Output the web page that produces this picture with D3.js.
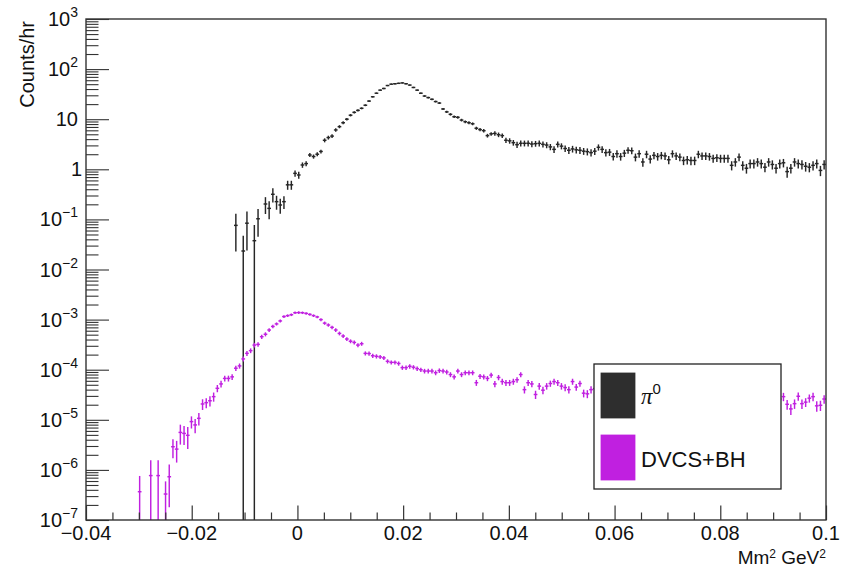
<!DOCTYPE html>
<html><head><meta charset="utf-8">
<script src="https://cdn.jsdelivr.net/npm/d3@7"></script>
<style>
html,body{margin:0;padding:0;background:#fff;}
svg{display:block;font-family:"Liberation Sans",Arial,Helvetica,sans-serif;}
</style></head><body>
<svg id="chart" width="852" height="567"></svg>
<script>
// ---------------- data ----------------
const xMin = -0.04, xMax = 0.1, nBins = 200;
const yMinVal = 1e-7, yMaxVal = 1e3;

// pi0 histogram, bins 40..199
const pi0FirstBin = 40;
const pi0Values = [
  0.076, 0, 0.0234, 0.084, 0, 0.0376, 0.103, 0, 0.203, 0.166,
  0.317, 0.226, 0.194, 0.226, 0.49, 0.49, 0.83, 0.77, 1.22, 1.3,
  1.93, 1.8, 2.0, 2.27, 3.8, 4.3, 4.6, 6.1, 7.1, 8.5,
  10, 12, 13.7, 15, 16.5, 19, 23, 28, 33, 38,
  41, 47, 50, 51, 52, 53, 51, 48, 43, 38,
  33, 29, 27, 25, 22.5, 21, 16, 14, 12.5, 11.2,
  10.9, 9.6, 8.9, 8.5, 8.1, 6.6, 6.2, 5.9, 4.7, 5.1,
  5.2, 4.9, 4.7, 3.8, 3.7, 3.4, 3.1, 3.3, 3.3, 3.3,
  3.2, 3.25, 3.3, 3.15, 3.05, 2.8, 2.5, 3.15, 2.9, 2.6,
  2.4, 2.55, 2.45, 2.4, 2.3, 2.25, 2.15, 2.3, 2.75, 2.5,
  2.15, 2.2, 1.8, 2.05, 1.8, 2.1, 2.4, 2.35, 1.75, 2.05,
  1.4, 2.0, 1.6, 1.9, 1.8, 1.9, 1.85, 1.55, 2.05, 1.85,
  1.75, 1.5, 1.55, 1.5, 1.5, 2.0, 1.85, 1.85, 1.8, 1.65,
  1.7, 1.65, 1.65, 1.65, 1.2, 1.4, 1.75, 1.2, 1.05, 1.3,
  1.3, 1.4, 1.3, 1.1, 1.4, 1.25, 1.05, 1.3, 1.35, 0.9,
  1.05, 1.4, 1.3, 1.25, 1.15, 1.1, 1.2, 1.3, 0.95, 1.25
];
const pi0Errors = [
  0.053, 0, 0.024, 0.06, 0, 0.04, 0.058, 0, 0.075, 0.065,
  0.1, 0.07, 0.065, 0.065, 0.1, 0.1, 0.12, 0.12, 0.15, 0.15,
  0.18, 0.17, 0.18, 0.2, 0.35, 0.38, 0.4, 0.48, 0.5, 0.55,
  0.6, 0.65, 0.7, 0.72, 0.75, 0.8, 0.9, 1.0, 1.1, 1.2,
  1.3, 1.4, 1.5, 1.5, 1.55, 1.55, 1.5, 1.45, 1.4, 1.3,
  1.2, 1.1, 1.05, 1.0, 0.95, 0.9, 0.8, 0.75, 0.7, 0.65,
  0.65, 0.6, 0.57, 0.55, 0.53, 0.48, 0.46, 0.45, 0.4, 0.42,
  0.52, 0.52, 0.5, 0.46, 0.46, 0.44, 0.43, 0.44, 0.44, 0.44,
  0.43, 0.43, 0.44, 0.43, 0.42, 0.4, 0.38, 0.43, 0.4, 0.39,
  0.38, 0.39, 0.38, 0.38, 0.36, 0.36, 0.35, 0.36, 0.39, 0.38,
  0.35, 0.35, 0.31, 0.34, 0.31, 0.34, 0.36, 0.36, 0.31, 0.34,
  0.27, 0.34, 0.3, 0.32, 0.31, 0.32, 0.32, 0.29, 0.34, 0.32,
  0.31, 0.29, 0.3, 0.29, 0.29, 0.34, 0.32, 0.32, 0.31, 0.3,
  0.3, 0.3, 0.3, 0.3, 0.25, 0.27, 0.31, 0.25, 0.23, 0.26,
  0.26, 0.27, 0.26, 0.23, 0.27, 0.26, 0.23, 0.26, 0.26, 0.22,
  0.23, 0.27, 0.26, 0.26, 0.25, 0.23, 0.25, 0.26, 0.22, 0.26
];

// DVCS+BH histogram, bins 14..199
const dvcsFirstBin = 14;
const dvcsValues = [
  3.67e-7, 0, 0, 7.7e-7, 0, 7.7e-7,
  0, 3.3e-7, 7.3e-7, 2.9e-6, 2.6e-6, 5.6e-6, 5.35e-6, 4.9e-6, 9.2e-6, 7.9e-6,
  1.07e-5, 2.07e-5, 2.2e-5, 2.4e-5, 2.9e-5, 4.25e-5, 5.2e-5, 6.7e-5, 6.7e-5, 7.2e-5,
  1.07e-4, 1.19e-4, 1.64e-4, 2.12e-4, 2.4e-4, 3.1e-4, 3.2e-4, 4.56e-4, 5.1e-4, 6.2e-4,
  7.3e-4, 8.2e-4, 9.4e-4, 1.15e-3, 1.2e-3, 1.25e-3, 1.37e-3, 1.38e-3, 1.37e-3, 1.33e-3,
  1.27e-3, 1.2e-3, 1.13e-3, 1.0e-3, 8.5e-4, 7.8e-4, 7.0e-4, 6.2e-4, 5.3e-4, 4.7e-4,
  4.1e-4, 3.7e-4, 3.5e-4, 3.1e-4, 3.3e-4, 2.12e-4, 2.1e-4, 1.9e-4, 1.85e-4, 1.8e-4,
  1.72e-4, 1.47e-4, 1.4e-4, 1.4e-4, 1.33e-4, 1.1e-4, 1.1e-4, 1.17e-4, 1.12e-4, 1.05e-4,
  1.0e-4, 9.4e-5, 9.4e-5, 9.4e-5, 8.7e-5, 9.6e-5, 9.4e-5, 9.0e-5, 8.0e-5, 7.2e-5,
  9.4e-5, 8.0e-5, 8.7e-5, 8.7e-5, 8.7e-5, 5.5e-5, 7.4e-5, 7.2e-5, 6.7e-5, 7.8e-5,
  5.2e-5, 7.0e-5, 5.8e-5, 5.5e-5, 5.5e-5, 5.8e-5, 6.3e-5, 8.0e-5, 4.0e-5, 5.5e-5,
  5.2e-5, 3.2e-5, 4.7e-5, 3.9e-5, 4.7e-5, 5.3e-5, 5.8e-5, 5.5e-5, 4.7e-5, 4.4e-5,
  4.0e-5, 5.8e-5, 4.5e-5, 5.3e-5, 3.4e-5, 3.3e-5, 4.0e-5, 4.2e-5, 3.8e-5, 4.5e-5,
  4.1e-5, 3.6e-5, 4.4e-5, 3.9e-5, 4.0e-5, 3.5e-5, 4.2e-5, 3.8e-5, 3.4e-5, 4.0e-5,
  3.7e-5, 3.9e-5, 3.3e-5, 3.8e-5, 3.6e-5, 3.4e-5, 3.9e-5, 3.5e-5, 3.2e-5, 3.7e-5,
  3.5e-5, 3.3e-5, 3.6e-5, 3.1e-5, 3.4e-5, 3.5e-5, 3.0e-5, 3.3e-5, 3.2e-5, 2.9e-5,
  3.3e-5, 3.1e-5, 2.8e-5, 3.2e-5, 3.0e-5, 2.9e-5, 3.1e-5, 2.7e-5, 3.0e-5, 2.8e-5,
  2.9e-5, 2.6e-5, 3.0e-5, 2.7e-5, 2.8e-5, 2.5e-5, 2.9e-5, 2.6e-5, 2.9e-5, 2.04e-5,
  1.65e-5, 2.1e-5, 2.95e-5, 2.1e-5, 2.25e-5, 2.7e-5, 2.9e-5, 1.9e-5, 1.95e-5, 2.6e-5
];
const dvcsErrors = [
  3.9e-7, 0, 0, 7.8e-7, 0, 7.8e-7,
  0, 2.6e-7, 5.5e-7, 1.2e-6, 1.2e-6, 2.4e-6, 2.2e-6, 2.3e-6, 2.5e-6, 2.5e-6,
  3e-6, 5e-6, 5e-6, 5.5e-6, 6e-6, 7e-6, 8e-6, 9e-6, 9e-6, 9.5e-6,
  1.3e-5, 1.4e-5, 1.9e-5, 2.4e-5, 2.6e-5, 3.3e-5, 3.3e-5, 4.5e-5, 4.8e-5, 5.5e-5,
  5.5e-5, 5.8e-5, 6.2e-5, 7e-5, 7.2e-5, 7.5e-5, 8e-5, 8e-5, 8e-5, 7.8e-5,
  7.5e-5, 7.2e-5, 7e-5, 6.8e-5, 6.2e-5, 6e-5, 5.6e-5, 5.2e-5, 4.6e-5, 4.2e-5,
  3.6e-5, 3.3e-5, 3.2e-5, 2.9e-5, 3e-5, 2e-5, 2e-5, 1.8e-5, 1.8e-5, 1.7e-5,
  1.6e-5, 1.4e-5, 1.3e-5, 1.3e-5, 1.3e-5, 1.1e-5, 1.1e-5, 1.2e-5, 1.1e-5, 1.1e-5,
  1e-5, 1e-5, 1e-5, 1e-5, 9.5e-6, 1e-5, 1e-5, 9.5e-6, 9e-6, 8.5e-6,
  1e-5, 9e-6, 9.5e-6, 9.5e-6, 9.5e-6, 7.5e-6, 8.5e-6, 8.5e-6, 8e-6, 9e-6,
  7.5e-6, 8.5e-6, 8e-6, 7.5e-6, 7.5e-6, 8e-6, 8e-6, 9e-6, 6.5e-6, 7.5e-6,
  7.5e-6, 6e-6, 7e-6, 6.5e-6, 7e-6, 7.5e-6, 8e-6, 7.5e-6, 7e-6, 7e-6,
  6.5e-6, 8e-6, 7e-6, 7.5e-6, 6e-6, 6e-6, 6.5e-6, 6.5e-6, 6.5e-6, 7e-6,
  6.5e-6, 6e-6, 7e-6, 6.5e-6, 6.5e-6, 6e-6, 6.5e-6, 6.5e-6, 6e-6, 6.5e-6,
  6e-6, 6.5e-6, 6e-6, 6.5e-6, 6e-6, 6e-6, 6.5e-6, 6e-6, 6e-6, 6e-6,
  6e-6, 6e-6, 6e-6, 5.5e-6, 6e-6, 6e-6, 5.5e-6, 6e-6, 5.5e-6, 5.5e-6,
  6e-6, 5.5e-6, 5.5e-6, 5.5e-6, 5.5e-6, 5.5e-6, 5.5e-6, 5e-6, 5.5e-6, 5e-6,
  5.5e-6, 5e-6, 5.5e-6, 5e-6, 5e-6, 5e-6, 5.5e-6, 5e-6, 5.5e-6, 4.5e-6,
  4e-6, 4.5e-6, 5.5e-6, 4.5e-6, 4.5e-6, 5e-6, 5.5e-6, 4.5e-6, 4.5e-6, 5e-6
];

const xMajorTicks = [-0.04, -0.02, 0, 0.02, 0.04, 0.06, 0.08, 0.1];
const xTickLabels = ["\u22120.04", "\u22120.02", "0", "0.02", "0.04", "0.06", "0.08", "0.1"];
const xMinorStep = 0.005;
const yDecades = [-7, -6, -5, -4, -3, -2, -1, 0, 1, 2, 3];
const yTitle = "Counts/hr";
const xTitleParts = [["Mm", false], ["2", true], [" GeV", false], ["2", true]];
const seriesNames = ["\u03c0", "DVCS+BH"];
const seriesColors = ["#2e2e2e", "#c020e0"];

// ---------------- layout ----------------
const W = 852, H = 567;
const L = 86, R = 826, T = 19, B = 520;
const svg = d3.select("#chart");
svg.append("rect").attr("width", W).attr("height", H).attr("fill", "#fff");

const x = d3.scaleLinear().domain([xMin, xMax]).range([L, R]);
const y = d3.scaleLog().domain([yMinVal, yMaxVal]).range([B, T]);
const binW = (xMax - xMin) / nBins;

svg.append("clipPath").attr("id", "plotclip")
  .append("rect").attr("x", L).attr("y", T).attr("width", R - L).attr("height", B - T);

function histPoints(values, errors, first) {
  return values.map((v, k) => {
    const i = first + k;
    return { lo: xMin + i * binW, hi: xMin + (i + 1) * binW, c: xMin + (i + 0.5) * binW, v, e: errors[k] };
  }).filter(d => d.v > 0);
}

function drawHist(values, errors, first, color) {
  const pts = histPoints(values, errors, first);
  const g = svg.append("g").attr("clip-path", "url(#plotclip)")
    .attr("stroke", color).attr("stroke-width", 1.45).attr("fill", "none");
  g.selectAll("line.h").data(pts).join("line").attr("class", "h")
    .attr("x1", d => x(d.lo)).attr("x2", d => x(d.hi))
    .attr("y1", d => y(d.v)).attr("y2", d => y(d.v));
  g.selectAll("line.v").data(pts).join("line").attr("class", "v")
    .attr("x1", d => x(d.c)).attr("x2", d => x(d.c))
    .attr("y1", d => y(d.v + d.e))
    .attr("y2", d => (d.v - d.e) > yMinVal ? y(d.v - d.e) : B);
}

drawHist(pi0Values, pi0Errors, pi0FirstBin, "#262626");
drawHist(dvcsValues, dvcsErrors, dvcsFirstBin, seriesColors[1]);

// ---------------- axes ----------------
const axisColor = "#333";
const xMinor = d3.range(Math.round((xMax - xMin) / xMinorStep) + 1).map(k => xMin + k * xMinorStep)
  .filter(v => !xMajorTicks.some(m => Math.abs(m - v) < 1e-9));
const xAxisMinor = d3.axisBottom(x).tickValues(xMinor).tickSize(-7.5).tickFormat("");
const xAxisMajor = d3.axisBottom(x).tickValues(xMajorTicks).tickSize(-14.5).tickFormat("");
[xAxisMinor, xAxisMajor].forEach(ax => {
  const g = svg.append("g").attr("transform", `translate(0,${B})`).call(ax);
  g.select(".domain").remove();
  g.selectAll("line").attr("stroke", axisColor).attr("stroke-width", 1.2);
});
const yMajor = yDecades.map(p => Math.pow(10, p));
const yMinor = [];
yDecades.slice(0, -1).forEach(p => { for (let k = 2; k <= 9; k++) yMinor.push(k * Math.pow(10, p)); });
const yAxisMinor = d3.axisLeft(y).tickValues(yMinor).tickSize(-12.5).tickFormat("");
const yAxisMajor = d3.axisLeft(y).tickValues(yMajor).tickSize(-23).tickFormat("");
[yAxisMinor, yAxisMajor].forEach(ax => {
  const g = svg.append("g").attr("transform", `translate(${L},0)`).call(ax);
  g.select(".domain").remove();
  g.selectAll("line").attr("stroke", axisColor).attr("stroke-width", 1.1);
});

// frame
svg.append("rect").attr("x", L).attr("y", T).attr("width", R - L).attr("height", B - T)
  .attr("fill", "none").attr("stroke", axisColor).attr("stroke-width", 1.4);

// x labels
svg.append("g").selectAll("text").data(xMajorTicks).join("text")
  .attr("x", d => x(d)).attr("y", 540).attr("text-anchor", "middle")
  .attr("font-size", 20).attr("fill", "#111")
  .text((d, i) => xTickLabels[i]);

// y labels
const yl = svg.append("g").selectAll("text").data(yDecades).join("text")
  .attr("x", p => (p === 0 ? 82 : 78)).attr("y", p => y(Math.pow(10, p)) + 7)
  .attr("text-anchor", "end").attr("font-size", 20).attr("fill", "#111");
yl.each(function (p) {
  const t = d3.select(this);
  if (p === 0) { t.text("1"); return; }
  if (p === 1) { t.text("10"); return; }
  t.append("tspan").text("10");
  t.append("tspan").attr("dy", -9).attr("font-size", 14)
    .text(p < 0 ? "\u2212" + (-p) : String(p));
});

// axis titles
svg.append("text").attr("transform", "translate(34,21) rotate(-90)")
  .attr("text-anchor", "end").attr("font-size", 20).attr("fill", "#111").text(yTitle);
const xt = svg.append("text").attr("x", R).attr("y", 564).attr("text-anchor", "end")
  .attr("font-size", 19).attr("fill", "#111");
xTitleParts.forEach(([s, sup], i) => {
  const ts = xt.append("tspan").text(s);
  if (sup) ts.attr("font-size", 12).attr("dy", -6);
  else if (i > 0) ts.attr("dy", 6);
});

// ---------------- legend ----------------
const lg = svg.append("g");
lg.append("rect").attr("x", 594).attr("y", 364).attr("width", 187).attr("height", 125)
  .attr("fill", "#fff").attr("stroke", "#222").attr("stroke-width", 1.3);
const legendRows = [{ name: seriesNames[0], color: seriesColors[0], y: 373 },
                    { name: seriesNames[1], color: seriesColors[1], y: 435 }];
lg.selectAll("rect.sw").data(legendRows).join("rect").attr("class", "sw")
  .attr("x", 601).attr("y", d => d.y).attr("width", 34).attr("height", 45)
  .attr("fill", d => d.color).attr("stroke", d => d.color).attr("stroke-width", 0.8);
const t0 = lg.append("text").attr("x", 641).attr("y", 404).attr("font-size", 23).attr("fill", "#111");
t0.append("tspan").attr("font-family", "'Liberation Serif','DejaVu Serif',serif").attr("font-style", "italic").text(legendRows[0].name);
t0.append("tspan").attr("dy", -10).attr("font-size", 15).text("0");
lg.append("text").attr("x", 641).attr("y", 467).attr("font-size", 22).attr("fill", "#111").text(legendRows[1].name);
</script>
</body></html>
